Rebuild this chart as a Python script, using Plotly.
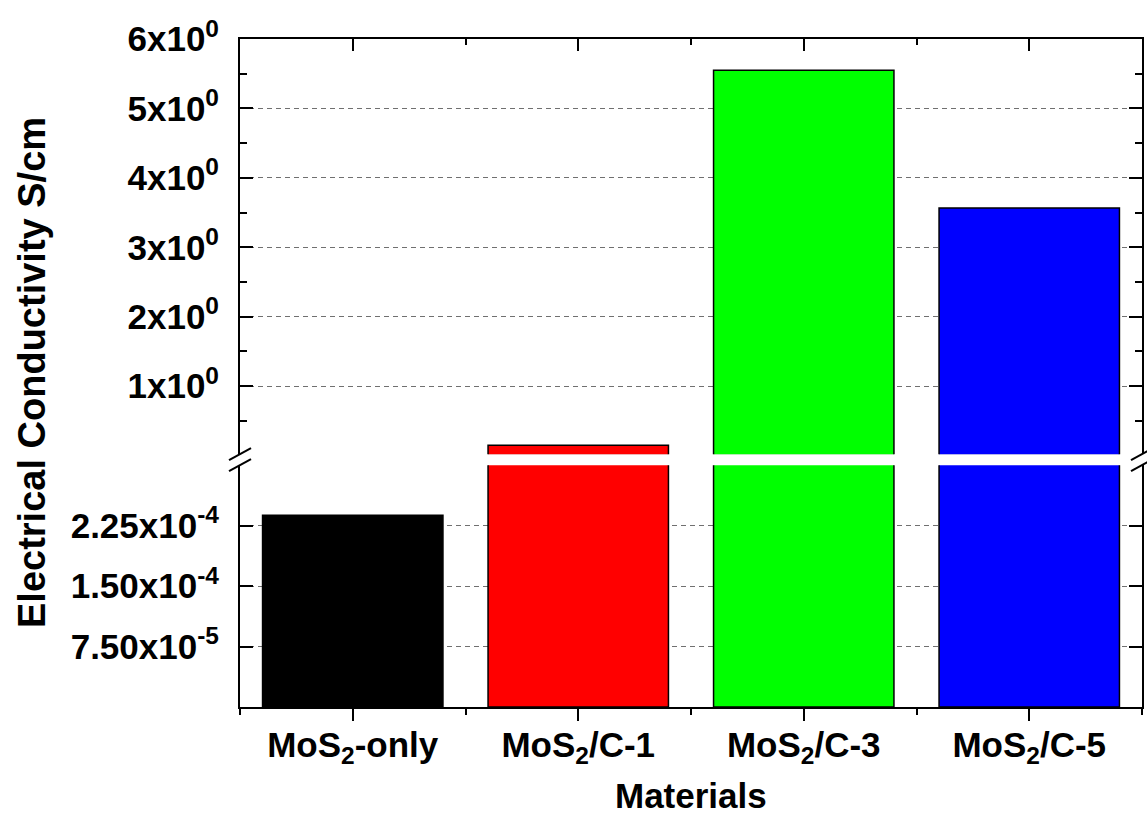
import plotly.graph_objects as go

# ---- data ----
materials = ["MoS<sub>2</sub>-only", "MoS<sub>2</sub>/C-1", "MoS<sub>2</sub>/C-3", "MoS<sub>2</sub>/C-5"]
conductivity = [2.38e-4, 0.15, 5.55, 3.565]          # S/cm
bar_colors = ["#000000", "#ff0000", "#00ff00", "#0000ff"]

lower_ticks = [7.5e-5, 1.5e-4, 2.25e-4]
lower_labels = ["7.50x10<sup>-5</sup>", "1.50x10<sup>-4</sup>", "2.25x10<sup>-4</sup>"]
upper_ticks = [1, 2, 3, 4, 5, 6]
upper_labels = ["%dx10<sup>0</sup>" % v for v in upper_ticks]

lower_range = [0, 3.0e-4]
upper_range = [0.02, 6]

xpos = list(range(len(materials)))
upper_vals = [v if v > lower_range[1] else None for v in conductivity]

FONT = "Liberation Sans, Arial, sans-serif"
tickfont = dict(family=FONT, size=35, color="black", weight="bold")

fig = go.Figure()
fig.add_trace(go.Bar(x=xpos, y=conductivity, width=0.8, xaxis="x", yaxis="y",
                     marker=dict(color=bar_colors, line=dict(color="black", width=1.5)),
                     showlegend=False, hoverinfo="skip"))
fig.add_trace(go.Bar(x=xpos, y=upper_vals, width=0.8, xaxis="x2", yaxis="y2",
                     marker=dict(color=bar_colors, line=dict(color="black", width=1.5)),
                     showlegend=False, hoverinfo="skip"))

common_y = dict(showline=True, linecolor="black", linewidth=2, mirror="allticks",
                ticks="inside", ticklen=13, tickwidth=2, tickcolor="black",
                showgrid=True, gridcolor="#707070", griddash="5px,4px", gridwidth=1,
                zeroline=False, tickfont=tickfont, ticklabelstandoff=12)

fig.update_layout(
    width=1147, height=814,
    margin=dict(l=240, r=3, t=39, b=107),
    paper_bgcolor="white", plot_bgcolor="white",
    bargap=0.2,
    xaxis=dict(domain=[0, 1], range=[-0.5, 3.5], anchor="y",
               tickmode="array", tickvals=xpos, ticktext=materials,
               showline=True, linecolor="black", linewidth=2,
               ticks="outside", ticklen=12, tickwidth=2, tickcolor="black",
               minor=dict(tickmode="linear", tick0=0.5, dtick=1, ticks="outside",
                          ticklen=6, tickwidth=2, tickcolor="black", showgrid=False),
               showgrid=False, zeroline=False, tickfont=tickfont, ticklabelstandoff=-6),
    xaxis2=dict(domain=[0, 1], range=[-0.5, 3.5], anchor="y2", side="top",
                tickmode="array", tickvals=xpos, showticklabels=False,
                showline=True, linecolor="black", linewidth=2,
                ticks="inside", ticklen=12, tickwidth=2, tickcolor="black",
                minor=dict(tickmode="linear", tick0=0.5, dtick=1, ticks="inside",
                           ticklen=6, tickwidth=2, tickcolor="black", showgrid=False),
                showgrid=False, zeroline=False),
    yaxis=dict(domain=[0, 0.362], range=lower_range, anchor="x",
               tickmode="array", tickvals=lower_ticks, ticktext=lower_labels,
               **common_y),
    yaxis2=dict(domain=[0.3785, 1], range=upper_range, anchor="x2",
                tickmode="array", tickvals=upper_ticks, ticktext=upper_labels,
                minor=dict(tickmode="linear", tick0=0, dtick=0.5, ticks="inside",
                           ticklen=7, tickwidth=2, tickcolor="black", showgrid=False),
                **common_y),
)

# axis titles
fig.add_annotation(text="Materials", xref="paper", yref="paper", x=0.5, y=0,
                   yshift=-88, showarrow=False, yanchor="middle",
                   font=dict(family=FONT, size=35, color="black", weight="bold"))
fig.add_annotation(text="Electrical Conductivity S/cm", xref="paper", yref="paper",
                   x=0, xshift=-208, y=0.5, textangle=-90, showarrow=False,
                   xanchor="center", yanchor="middle",
                   font=dict(family=FONT, size=38, color="black", weight="bold"))

# axis-break marks (double slash at each end of the gap, on both y axes)
breaks = [(0.0, 0.362), (0.0, 0.3785), (1.0, 0.362), (1.0, 0.3785)]
for xp, yp in breaks:
    fig.add_shape(type="line", xref="paper", yref="paper",
                  xsizemode="pixel", ysizemode="pixel", xanchor=xp, yanchor=yp,
                  x0=-11, x1=11, y0=-6, y1=6,
                  line=dict(color="black", width=2))

fig.write_html("out.html")
